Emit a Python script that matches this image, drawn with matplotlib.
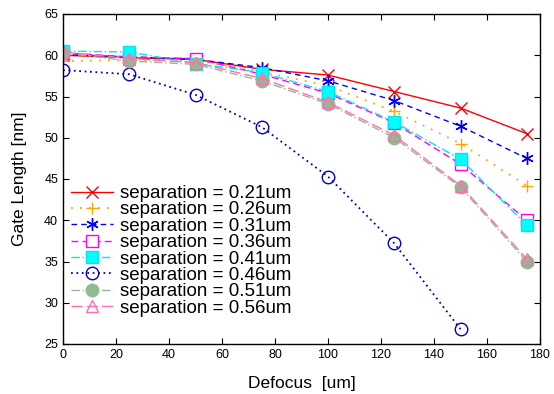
import matplotlib
matplotlib.use("Agg")
import matplotlib.pyplot as plt

plt.rcParams['font.family'] = ['Liberation Sans', 'DejaVu Sans']

defocus = [0, 25, 50, 75, 100, 125, 150, 175]
defocus_046 = [0, 25, 50, 75, 100, 125, 150]

sep_021 = [60.0, 59.7, 59.5, 58.3, 57.6, 55.6, 53.6, 50.5]
sep_026 = [59.3, 59.4, 59.4, 58.0, 56.3, 53.2, 49.3, 44.2]
sep_031 = [60.1, 59.8, 59.5, 58.5, 56.9, 54.5, 51.4, 47.5]
sep_036 = [60.3, 59.8, 59.6, 57.7, 55.4, 51.8, 46.8, 40.0]
sep_041 = [60.5, 60.4, 59.0, 57.9, 55.6, 51.9, 47.4, 39.4]
sep_046 = [58.2, 57.7, 55.2, 51.3, 45.3, 37.2, 26.8]
sep_051 = [60.3, 59.3, 58.9, 56.9, 54.1, 50.0, 44.0, 35.0]
sep_056 = [60.4, 59.6, 59.1, 57.2, 54.3, 50.3, 44.2, 35.3]

labels = ["separation = 0.21um", "separation = 0.26um", "separation = 0.31um",
          "separation = 0.36um", "separation = 0.41um", "separation = 0.46um",
          "separation = 0.51um", "separation = 0.56um"]

fig = plt.figure(figsize=(5.54, 3.94), dpi=100)
ax = fig.add_axes([63/554, 1 - 344/394, (540-63)/554, (344-14)/394])

ms = 9.0
ax.plot(defocus, sep_021, color='#ff0000', ls='-', marker='x', ms=ms, mew=1.0, lw=1.0, label=labels[0])
ax.plot(defocus, sep_026, color='#ffa500', ls=(0, (1, 4)), marker='+', ms=ms, mew=1.0, lw=1.3, label=labels[1])
ax.plot(defocus, sep_031, color='#0000ff', ls=(0, (4, 3)), marker=(6, 2, 0), ms=ms, mew=1.0, lw=1.0, label=labels[2])
ax.plot(defocus, sep_036, color='#ff00ff', ls=(0, (5, 3)), marker='s', ms=ms, mfc='white', mew=1.0, lw=1.0, label=labels[3])
ax.plot(defocus, sep_041, color='#00e5ee', ls=(0, (6, 2, 1, 2)), marker='s', ms=ms, mfc='#00ffff', mec='#00e5ee', lw=1.0, label=labels[4])
ax.plot(defocus_046, sep_046, color='#0000c8', ls=(0, (1, 2)), marker='o', ms=ms, mfc='none', mew=1.0, lw=1.3, label=labels[5])
ax.plot(defocus, sep_051, color='#8fbc8f', ls=(0, (6, 2, 1, 2)), marker='o', ms=ms, mfc='#8fbc8f', mew=1.0, lw=1.0, label=labels[6])
ax.plot(defocus, sep_056, color='#ff6eb4', ls=(0, (8, 3)), marker='^', ms=ms, mfc='none', mew=1.0, lw=1.0, label=labels[7])

ax.set_xlim(0, 180)
ax.set_ylim(25, 65)
ax.set_xticks(range(0, 181, 20))
ax.set_yticks(range(25, 66, 5))
ax.tick_params(direction='in', top=True, right=True, labelsize=9, length=4)
for s in ax.spines.values():
    s.set_linewidth(1.0)

ax.set_xlabel("Defocus  [um]", fontsize=12.5, labelpad=11)
ax.set_ylabel("Gate Length [nm]", fontsize=12.5, labelpad=12)

ax.legend(loc='lower left', bbox_to_anchor=(0.0, 0.06), frameon=False, fontsize=13.5,
          handlelength=2.25, labelspacing=-0.04, handletextpad=0.37,
          borderpad=0.2, borderaxespad=0.2)

fig.savefig("out.png", dpi=100)
